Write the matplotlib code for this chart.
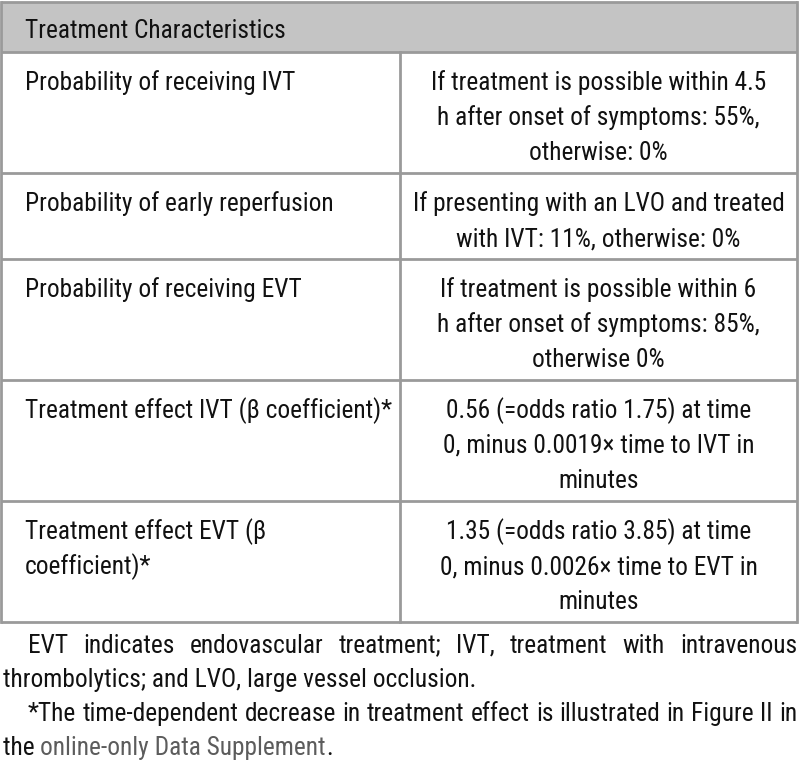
import matplotlib
matplotlib.use("Agg")
import matplotlib.pyplot as plt
from matplotlib import font_manager

# --- font: condensed sans, like the journal table ---------------------------
names = {f.name for f in font_manager.fontManager.ttflist}
FONT = dict(family="DejaVu Sans", stretch="condensed")
for cand in ["Roboto Condensed", "Liberation Sans Narrow", "Archivo Narrow",
             "PT Sans Narrow", "Arial Narrow"]:
    if cand in names:
        FONT = dict(family=cand)
        break

# --- table content ----------------------------------------------------------
header = "Treatment Characteristics"

left_cells = [
    ["Probability of receiving IVT"],
    ["Probability of early reperfusion"],
    ["Probability of receiving EVT"],
    ["Treatment effect IVT (\u03b2 coefficient)*"],
    ["Treatment effect EVT (\u03b2", "coefficient)*"],
]

right_cells = [
    ["If treatment is possible within 4.5",
     "h after onset of symptoms: 55%,",
     "otherwise: 0%"],
    ["If presenting with an LVO and treated",
     "with IVT: 11%, otherwise: 0%"],
    ["If treatment is possible within 6",
     "h after onset of symptoms: 85%,",
     "otherwise 0%"],
    ["0.56 (=odds ratio 1.75) at time",
     "0, minus 0.0019\u00d7 time to IVT in",
     "minutes"],
    ["1.35 (=odds ratio 3.85) at time",
     "0, minus 0.0026\u00d7 time to EVT in",
     "minutes"],
]

footnote_1 = ["EVT indicates endovascular treatment; IVT, treatment with intravenous",
              "thrombolytics; and LVO, large vessel occlusion."]
footnote_2 = ["*The time-dependent decrease in treatment effect is illustrated in Figure II in"]
link_before, link_text, link_after = "the ", "online-only Data Supplement", "."

# --- layout -----------------------------------------------------------------
W, H = 800, 762
X0, XMID, X1 = 1, 400, 797
Y_TOP, HEADER_H = 2, 50
LINE = 35
PAD = 16
TXT = "#111111"
LINK = "#5c5c5c"
GRID = "#9a9a9a"

fig = plt.figure(figsize=(W / 100, H / 100), dpi=100)
ax = fig.add_axes([0, 0, 1, 1])
ax.set_xlim(0, W)
ax.set_ylim(H, 0)
ax.axis("off")
fig.canvas.draw()
renderer = fig.canvas.get_renderer()


def text_w(s, fs):
    t = ax.text(0, 0, s, fontsize=fs, **FONT)
    bb = t.get_window_extent(renderer)
    t.remove()
    return bb.width


# pick the size so the header is as wide as in the table (~260 px)
FS = min(20 * 260 / text_w(header, 20), 19)

# header
ax.add_patch(plt.Rectangle((X0, Y_TOP), X1 - X0, HEADER_H, facecolor="#c4c4c4",
                           edgecolor="none"))
ax.text(25, Y_TOP + HEADER_H / 2 + 4, header, fontsize=FS, color=TXT,
        va="center", ha="left", **FONT)

y = Y_TOP + HEADER_H
row_lines = [Y_TOP, y]
for lcell, rcell in zip(left_cells, right_cells):
    n = max(len(lcell), len(rcell))
    for i, s in enumerate(lcell):
        ax.text(25, y + 31 + i * LINE, s, fontsize=FS, color=TXT,
                va="center", ha="left", **FONT)
    for i, s in enumerate(rcell):
        ax.text((XMID + X1) / 2, y + 31 + i * LINE, s, fontsize=FS, color=TXT,
                va="center", ha="center", **FONT)
    y += n * LINE + PAD
    row_lines.append(y)
y_bottom = y

for yy in row_lines:
    ax.plot([X0, X1], [yy, yy], color=GRID, lw=2, solid_capstyle="butt")
ax.plot([X0, X0], [Y_TOP, y_bottom], color=GRID, lw=2)
ax.plot([X1, X1], [Y_TOP, y_bottom], color=GRID, lw=2)
ax.plot([XMID, XMID], [Y_TOP + HEADER_H, y_bottom], color=GRID, lw=2)


# --- footnotes (justified) --------------------------------------------------
def justified(line, x_left, x_right, yy):
    words = line.split(" ")
    widths = [text_w(w, FS) for w in words]
    gap = (x_right - x_left - sum(widths)) / (len(words) - 1)
    x = x_left
    for w, wd in zip(words, widths):
        ax.text(x, yy, w, fontsize=FS, color=TXT, va="center", ha="left", **FONT)
        x += wd + gap


FL = 34
fy = y_bottom + 24
justified(footnote_1[0], 28, 797, fy)
ax.text(3, fy + FL, footnote_1[1], fontsize=FS, color=TXT, va="center", ha="left", **FONT)
justified(footnote_2[0], 28, 797, fy + 2 * FL)

ly = fy + 3 * FL
ax.text(3, ly, link_before, fontsize=FS, color=TXT, va="center", ha="left", **FONT)
x_link = 3 + text_w(link_before + "x", FS) - text_w("x", FS)
ax.text(x_link, ly, link_text, fontsize=FS, color=LINK, va="center", ha="left", **FONT)
x_end = 3 + text_w(link_before + link_text + link_after, FS)
ax.text(x_end, ly, link_after, fontsize=FS, color=TXT, va="center", ha="right", **FONT)

fig.savefig("out.png", dpi=100)
